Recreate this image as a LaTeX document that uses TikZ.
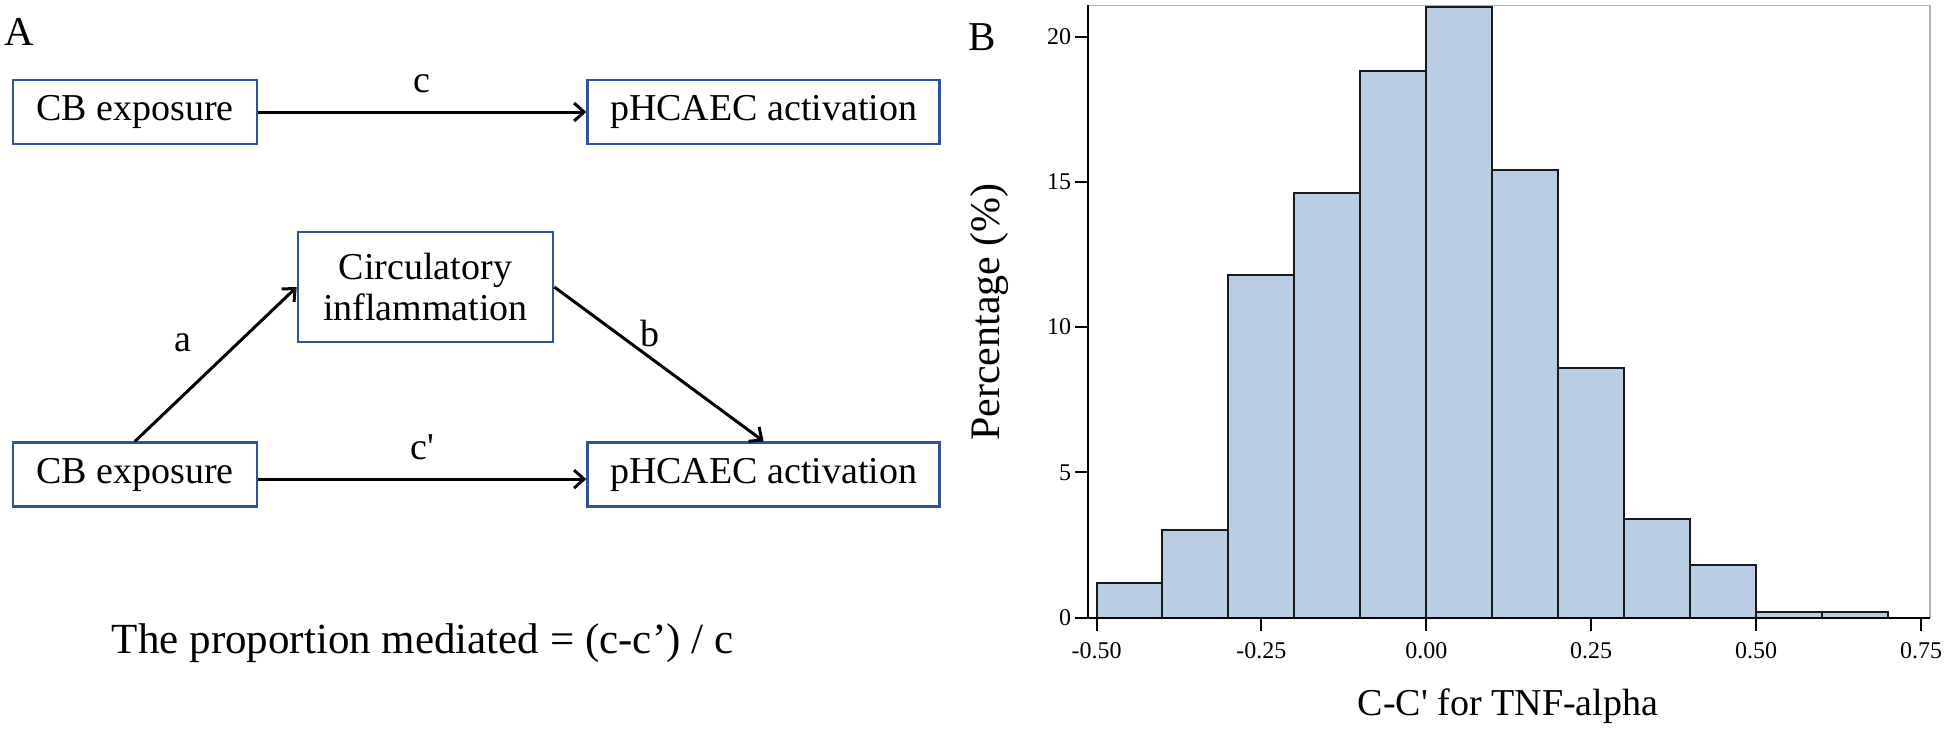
\documentclass[tikz,border=0pt]{standalone}
\usepackage{fontspec}
\setmainfont{Liberation Serif}[Ligatures=TeXOff]
\usepackage{tikz}
\usetikzlibrary{arrows.meta,positioning}
\definecolor{boxblue}{RGB}{47,85,151}
\definecolor{barblue}{RGB}{185,205,229}
\newcommand{\fs}[1]{\fontsize{#1}{#1}\selectfont}

\begin{document}
\begin{tikzpicture}[x=1pt, y=-1pt,
  box/.style={draw=boxblue, line width=2.6pt, fill=white, align=center,
              minimum height=64pt, font=\fontsize{38}{41}\selectfont},
  ar/.style={-{Straight Barb[length=10pt,width=18pt]}, line width=3pt},
  lab/.style={font=\fs{38}},
  bar/.style={fill=barblue, draw=black!90, line width=2pt},
  tick/.style={line width=2pt},
  ticklab/.style={font=\fs{24}},
]
  \useasboundingbox (0,0) rectangle (1946,732);

  % panel A
  \node[font=\fs{41}] (pa) at (19,32) {A};
  \node[box, minimum width=244pt] (cbtop) at (135,112) {CB exposure};
  \node[box, minimum width=352pt, right=328pt of cbtop] (acttop) {pHCAEC activation};
  \node[box, minimum width=244pt, below=296pt of cbtop] (cbbot) {CB exposure};
  \node[box, minimum width=352pt, right=328pt of cbbot] (actbot) {pHCAEC activation};
  \node[box, minimum width=255pt, minimum height=110pt] (circ) at (425.5,287)
        {Circulatory\\inflammation};

  \draw[ar] (cbtop) -- node[lab, above=14pt]{c} (acttop);
  \draw[ar] ([yshift=-4.5pt]cbbot.east) -- node[lab, above=14pt]{c'} ([yshift=-4.5pt]actbot.west);
  \draw[ar] (cbbot.north) -- node[lab, pos=0.64, xshift=-56pt]{a} (circ.west);
  \draw[ar] (circ.east) -- node[lab, pos=0.3, xshift=33pt]{b} (actbot.north);

  \node[font=\fs{43}] (prop) at (422.5,643) {The proportion mediated = (c-c’) / c};

  % panel B
  \node[font=\fs{41}] (pb) at (982,37) {B};
  \begin{scope}[shift={(1426.3,617.5)}, x=659.6pt, y=29.05pt]
    \draw[black!30, line width=1.2pt] (-0.5128,21.08) -- (0.7637,21.08) -- (0.7637,0);
    \foreach \l/\h in {-0.5/1.2, -0.4/3.0, -0.3/11.8, -0.2/14.6, -0.1/18.8, 0/21.0,
                       0.1/15.4, 0.2/8.6, 0.3/3.4, 0.4/1.8, 0.5/0.2, 0.6/0.2}
      \draw[bar] (\l,0) rectangle ++(0.1,\h);
    \draw[tick] (-0.5128,21.08) -- (-0.5128,0) -- (0.7637,0);
    \foreach \v in {0,5,10,15,20}
      \draw[tick] (-0.5128,\v) -- ++(-13pt,0pt) node[ticklab, left, inner sep=3pt] (yt\v) {\v};
    \foreach \u/\t [count=\i] in {-0.5/-0.50, -0.25/-0.25, 0/0.00, 0.25/0.25, 0.5/0.50, 0.75/0.75}
      \draw[tick] (\u,0) -- ++(0pt,-13pt) node[ticklab, below=8pt] (xt\i) {\t};
  \end{scope}
  \node[lab] (xlab) at (1508,706) {C-C' for TNF-alpha};
  \node[font=\fs{42}, rotate=90] (ylab) at (989,312) {Percentage (\%)};
\end{tikzpicture}
\end{document}
